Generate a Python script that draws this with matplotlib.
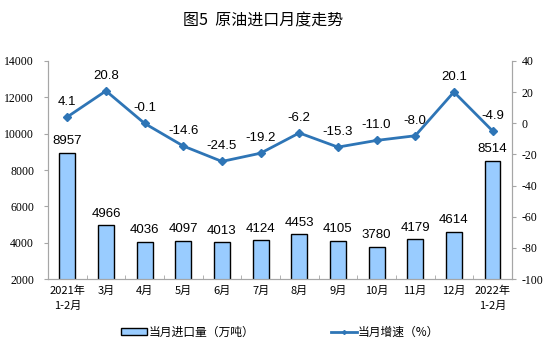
import matplotlib
matplotlib.use("Agg")
import matplotlib.pyplot as plt
from matplotlib.lines import Line2D
from matplotlib.patches import Patch
import numpy as np

plt.rcParams['font.family'] = ['Noto Sans CJK SC', 'DejaVu Sans']

categories = ["2021年\n1-2月", "3月", "4月", "5月", "6月", "7月", "8月", "9月",
              "10月", "11月", "12月", "2022年\n1-2月"]
imports = [8957, 4966, 4036, 4097, 4013, 4124, 4453, 4105, 3780, 4179, 4614, 8514]
growth = [4.1, 20.8, -0.1, -14.6, -24.5, -19.2, -6.2, -15.3, -11.0, -8.0, 20.1, -4.9]
left_ticks = [2000, 4000, 6000, 8000, 10000, 12000, 14000]
right_ticks = [-100, -80, -60, -40, -20, 0, 20, 40]

bar_color = "#99CCFF"
line_color = "#2E75B6"
spine_color = "#A6A6A6"

fig = plt.figure(figsize=(5.54, 3.46), dpi=100)
ax = fig.add_axes([0.0866, 0.1936, 0.8374, 0.6301])
ax2 = ax.twinx()

x = np.arange(len(categories))
ax.bar(x, imports, width=0.41, color=bar_color, edgecolor="black", linewidth=1.0,
       bottom=0, zorder=2)
ax.set_ylim(2000, 14000)
ax.set_xlim(-0.5, len(categories) - 0.5)
ax.set_yticks(left_ticks)
ax.set_yticklabels([str(t) for t in left_ticks], family="Liberation Serif", fontsize=8.5)
ax.set_xticks(x)
ax.set_xticklabels(categories, fontsize=8, linespacing=1.6)
ax.tick_params(axis="x", length=0, pad=5)
ax.set_xticks(np.arange(-0.5, len(categories), 1), minor=True)
ax.tick_params(axis="x", which="minor", length=3, direction="in", color=spine_color)
ax.tick_params(axis="y", length=3, direction="out", color=spine_color, pad=7)

for xi, v in zip(x, imports):
    ax.annotate(f"{v}", (xi, v), xytext=(0, 4), textcoords="offset points",
                ha="center", va="bottom", fontsize=9.5, family="Liberation Sans", zorder=5)

ax2.plot(x, growth, color=line_color, linewidth=2, marker="D", markersize=4, zorder=4)
ax2.set_ylim(-100, 40)
ax2.set_yticks(right_ticks)
ax2.set_yticklabels([str(t) for t in right_ticks], family="Liberation Serif", fontsize=8.5)
ax2.tick_params(axis="y", length=3, direction="out", color=spine_color, pad=4)

for xi, v in zip(x, growth):
    ax2.annotate(f"{v:.1f}", (xi, v), xytext=(0, 6.5), textcoords="offset points",
                 ha="center", va="bottom", fontsize=9.5, family="Liberation Sans", zorder=5)

for a in (ax, ax2):
    a.spines["top"].set_visible(False)
    for s in ("left", "right", "bottom"):
        a.spines[s].set_color(spine_color)
        a.spines[s].set_linewidth(0.8)

fig.text(0.475, 0.94, "图5  原油进口月度走势", ha="center", va="center", fontsize=11.5)

handles = [Patch(facecolor=bar_color, edgecolor="black", linewidth=1.0),
           Line2D([0], [0], color=line_color, linewidth=2, marker="D", markersize=2)]
fig.legend(handles, ["当月进口量（万吨）", "当月增速（%）"], loc="center",
           bbox_to_anchor=(0.506, 0.04), ncol=2, frameon=False, fontsize=8.5,
           columnspacing=6.5, handlelength=2.2, handleheight=0.6, handletextpad=0.1)

fig.savefig("out.png", dpi=100)
